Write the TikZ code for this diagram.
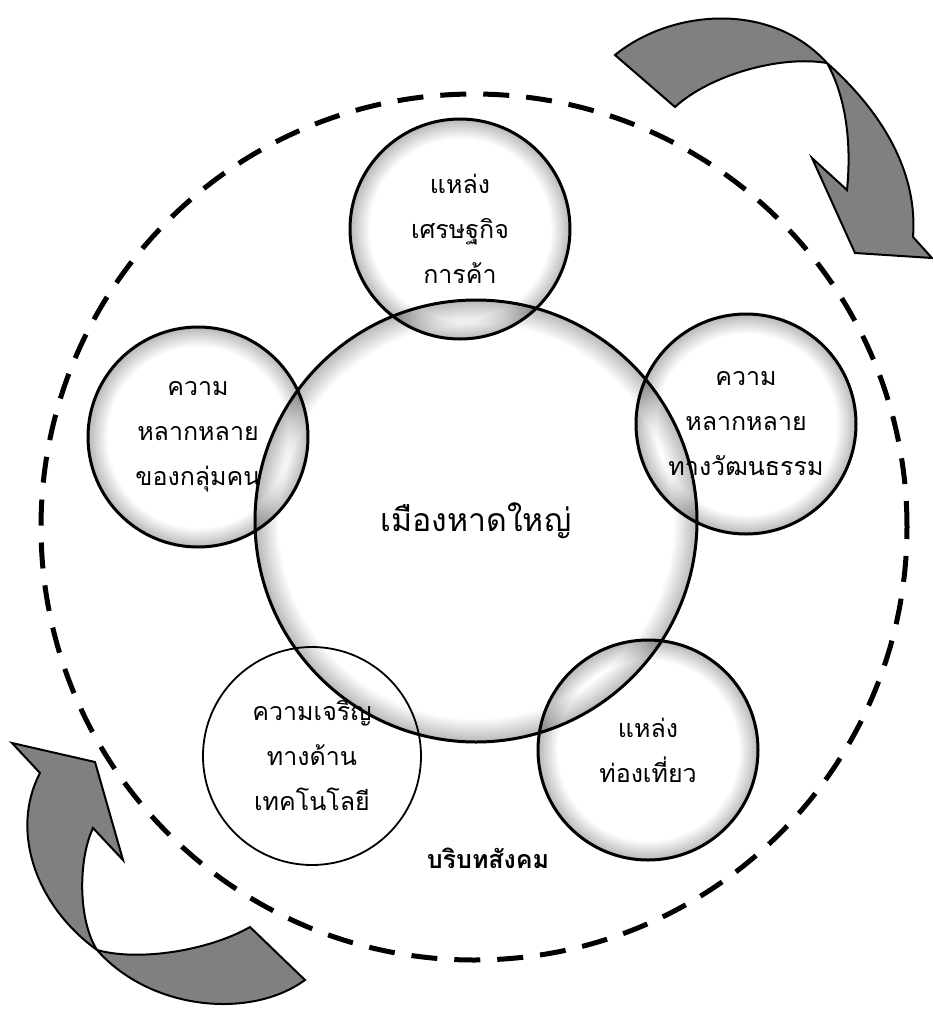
\documentclass[tikz,border=0pt]{standalone}
\usepackage{fontspec}
\newfontfamily\thaifont[Script=Thai]{Loma}
\usetikzlibrary{positioning}
\pgfdeclareradialshading{edgeglow}{\pgfpoint{0bp}{0bp}}{color(0bp)=(white); color(20.5bp)=(white); color(25bp)=(black!28); color(50bp)=(black!28)}
\pgfdeclareradialshading{cityglow}{\pgfpoint{0bp}{0bp}}{color(0bp)=(white); color(22.3bp)=(white); color(25bp)=(black!28); color(50bp)=(black!28)}
\newcommand\topicfont{\thaifont\fontsize{25}{45}\selectfont}
\tikzset{topiccirc/.style={circle, draw, line width=3pt, minimum size=220pt, inner sep=0pt, shade, shading=edgeglow, align=center, font=\topicfont}}
\tikzset{plaincirc/.style={circle, draw, line width=1.8pt, minimum size=218pt, inner sep=0pt, align=center, font=\topicfont}}
\tikzset{citycirc/.style={circle, draw, line width=3pt, minimum size=442pt, inner sep=0pt, shade, shading=cityglow, font=\thaifont\fontsize{32}{40}\selectfont}}
\tikzset{socialring/.style={line width=5pt, dash pattern=on 26pt off 17pt}}
\tikzset{turnarrow/.style={fill=black!50, draw=black, line width=2pt, line join=miter}}

\begin{document}
\begin{tikzpicture}[x=1pt,y=-1pt]
      \useasboundingbox (0,0) rectangle (933,1021);
      \coordinate (hub) at (474,527);
      \begin{scope}[blend mode=multiply]
      \node[citycirc] (city) at (476,521) {เมืองหาดใหญ่};
      \node[topiccirc] (econ) at (460,229) {แหล่ง\\เศรษฐกิจ\\การค้า};
      \node[topiccirc] (people) at (198,437) {ความ\\หลากหลาย\\ของกลุ่มคน};
      \node[topiccirc] (culture) at (746,424) {ความ\\หลากหลาย\\ทางวัฒนธรรม};
      \node[plaincirc] (tech) at (312,756) {ความเจริญ\\ทางด้าน\\เทคโนโลยี};
      \node[topiccirc] (tour) at (648,750) {แหล่ง\\ท่องเที่ยว};
      \end{scope}
      \draw[socialring] (hub) circle (433pt);
      \node[font=\thaifont\bfseries\fontsize{25}{30}\selectfont] (context) at (488,858) {บริบทสังคม};
      \draw[turnarrow] (615,55) .. controls (670,10) and (770,0) .. (827,63)
        .. controls (880,110) and (918,170) .. (913,237) -- (932,258) -- (855,253)
        -- (812,158) -- (847,190) .. controls (852,140) and (845,95) .. (827,63)
        .. controls (780,55) and (710,75) .. (675,107) -- cycle;
      \draw[turnarrow] (12,743) -- (95,762) -- (123,860) -- (93,828)
        .. controls (78,860) and (78,920) .. (97,950)
        .. controls (140,962) and (210,950) .. (250,927) -- (305,980)
        .. controls (250,1020) and (150,1010) .. (97,950)
        .. controls (35,905) and (10,830) .. (40,773) -- cycle;
    \end{tikzpicture}
\end{document}
